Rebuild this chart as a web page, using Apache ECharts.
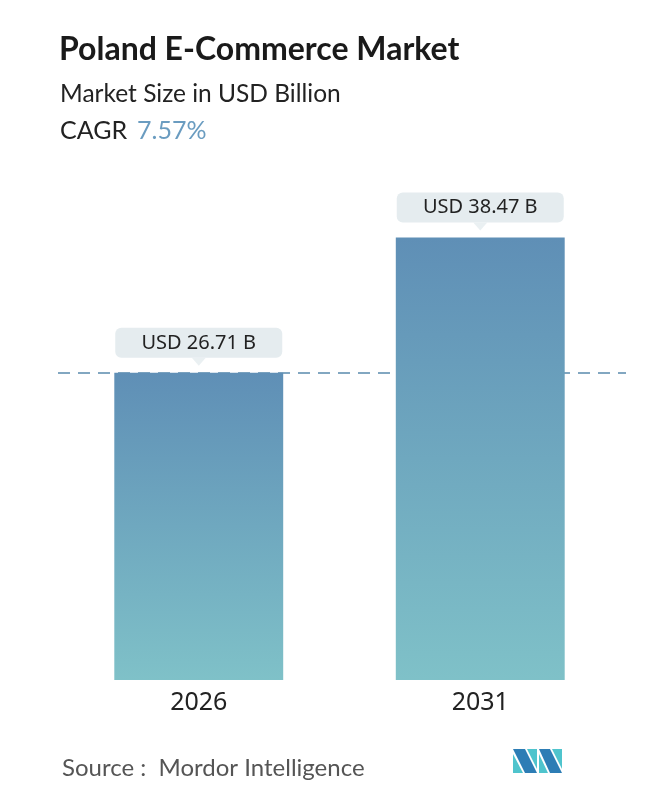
<!DOCTYPE html>
<html>
<head>
    <meta charset="utf-8">
    <title>Poland E-Commerce Market</title>
    <script src="https://cdn.jsdelivr.net/npm/echarts@6/dist/echarts.min.js"></script>
</head>
<body style="margin:0;background:#fff;">
    <div id="main" style="width:662px;height:796px;"></div>
    <script type="text/javascript">
    var myChart = echarts.init(document.getElementById('main'));
    // Data
    var years = ['2026', '2031'];
    var marketSize = [26.71, 38.47];
    var cagr = '7.57%';

    var barColor = {
      type: 'linear',
      x: 0, y: 0, x2: 0, y2: 1,
      colorStops: [{ offset: 0, color: '#5f8fb6' }, { offset: 1, color: '#7fc1c8' }]
    };
    var bubble = '#e5ecef';
    var dashStyle = { type: [12, 8], color: '#5a8bad', width: 1.5, opacity: 1 };

    var option = {
      backgroundColor: '#fff',
      title: [{
        text: 'Poland E-Commerce Market',
        left: 59, top: 34, padding: 0,
        textStyle: { fontFamily: 'Lato', fontWeight: 'bold', fontSize: 32, color: '#1a1a1a' }
      }, {
        text: 'Market Size in USD Billion',
        left: 60, top: 82, padding: 0,
        textStyle: { fontFamily: 'Lato', fontWeight: 'normal', fontSize: 24.5, color: '#222' }
      }, {
        text: '{a|CAGR}  {b|' + cagr + '}',
        left: 60, top: 118, padding: 0,
        textStyle: {
          fontWeight: 'normal',
          rich: {
            a: { fontFamily: 'Lato', fontWeight: 'normal', fontSize: 25, color: '#222' },
            b: { fontFamily: 'Lato', fontWeight: 'normal', fontSize: 25, color: '#6a9cc0' }
          }
        }
      }, {
        text: 'Source :  Mordor Intelligence',
        left: 62, top: 756, padding: 0,
        textStyle: { fontFamily: 'Lato', fontWeight: 'normal', fontSize: 24, color: '#555' }
      }],
      grid: { left: 58, right: 41, top: 220, bottom: 116 },
      xAxis: {
        type: 'category',
        data: years,
        axisLine: { show: false },
        axisTick: { show: false },
        axisLabel: { fontFamily: 'Noto Sans', fontSize: 25, color: '#222', margin: 10 }
      },
      yAxis: {
        type: 'value',
        min: 0, max: 40,
        show: false,
        splitLine: { show: false }
      },
      series: [{
        name: 'pointer',
        type: 'scatter',
        z: 1,
        silent: true,
        symbol: 'triangle',
        symbolRotate: 180,
        symbolSize: [14, 8],
        symbolOffset: [0, -11],
        itemStyle: { color: bubble },
        data: marketSize
      }, {
        name: 'Market Size',
        type: 'bar',
        z: 3,
        barWidth: '60%',
        itemStyle: { color: barColor },
        label: {
          show: true,
          position: 'top',
          distance: 15,
          formatter: 'USD {c} B',
          fontFamily: 'Noto Sans',
          fontSize: 20,
          color: '#222',
          backgroundColor: bubble,
          borderRadius: 6,
          width: 167,
          height: 30,
          lineHeight: 30,
          align: 'center',
          padding: 0
        },
        markLine: {
          z: 1,
          silent: true,
          symbol: 'none',
          label: { show: false },
          lineStyle: dashStyle,
          data: [[
            { x: 58, yAxis: marketSize[0] },
            { x: 626, yAxis: marketSize[0] }
          ]]
        },
        data: marketSize
      }],
      graphic: [{
        type: 'group',
        left: 513, top: 749,
        children: [
          { type: 'polygon', shape: { points: [[0, 0], [12, 0], [24, 24], [12, 24]] }, style: { fill: '#2d7db5' } },
          { type: 'polygon', shape: { points: [[0, 5], [10, 24], [0, 24]] }, style: { fill: '#4fc4cd' } },
          { type: 'polygon', shape: { points: [[14, 0], [24, 0], [24, 20]] }, style: { fill: '#4fc4cd' } },
          { type: 'polygon', shape: { points: [[26, 0], [37, 0], [49, 24], [37, 24]] }, style: { fill: '#2d7db5' } },
          { type: 'polygon', shape: { points: [[26, 5], [35, 24], [26, 24]] }, style: { fill: '#4fc4cd' } },
          { type: 'polygon', shape: { points: [[39, 0], [49, 0], [49, 20]] }, style: { fill: '#4fc4cd' } }
        ]
      }]
    };

    myChart.setOption(option);
    </script>
</body>
</html>
